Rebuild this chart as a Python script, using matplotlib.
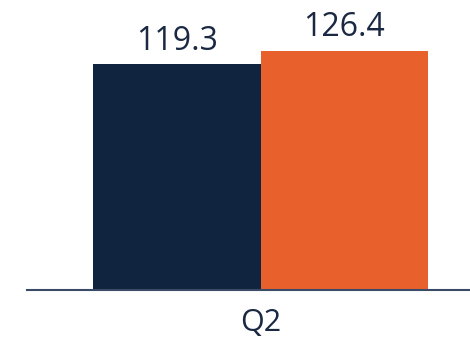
import matplotlib
matplotlib.use("Agg")
import matplotlib.pyplot as plt

# Data
categories = ["Q2"]
series_names = ["Prior", "Current"]
values = [119.3, 126.4]
colors = ["#10233F", "#E8612C"]
text_color = "#1A2842"

plt.rcParams['font.family'] = ['Open Sans', 'DejaVu Sans']

fig = plt.figure(figsize=(4.7, 3.41), dpi=100)
ax = fig.add_axes([27 / 470, 51 / 341, 443 / 470, 284 / 341])

offsets = [-0.5, 0.5]
for off, v, c in zip(offsets, values, colors):
    ax.bar(off, v, width=1.0, color=c, linewidth=0)
    ax.annotate(f"{v:.1f}", xy=(off, v), xytext=(0, 10.5), textcoords="offset points",
                ha="center", va="baseline", fontsize=23, color=text_color)

ax.set_xlim(-1.398, 1.254)
ax.set_ylim(0, 150)
ax.set_xticks([0])
ax.set_xticklabels(categories, fontsize=22, color=text_color)
ax.tick_params(axis='x', length=0, pad=13)
ax.set_yticks([])
for s in ["top", "right", "left"]:
    ax.spines[s].set_visible(False)
ax.spines["bottom"].set_color("#3B4A66")
ax.spines["bottom"].set_linewidth(1.5)

fig.savefig("out.png", dpi=100)
